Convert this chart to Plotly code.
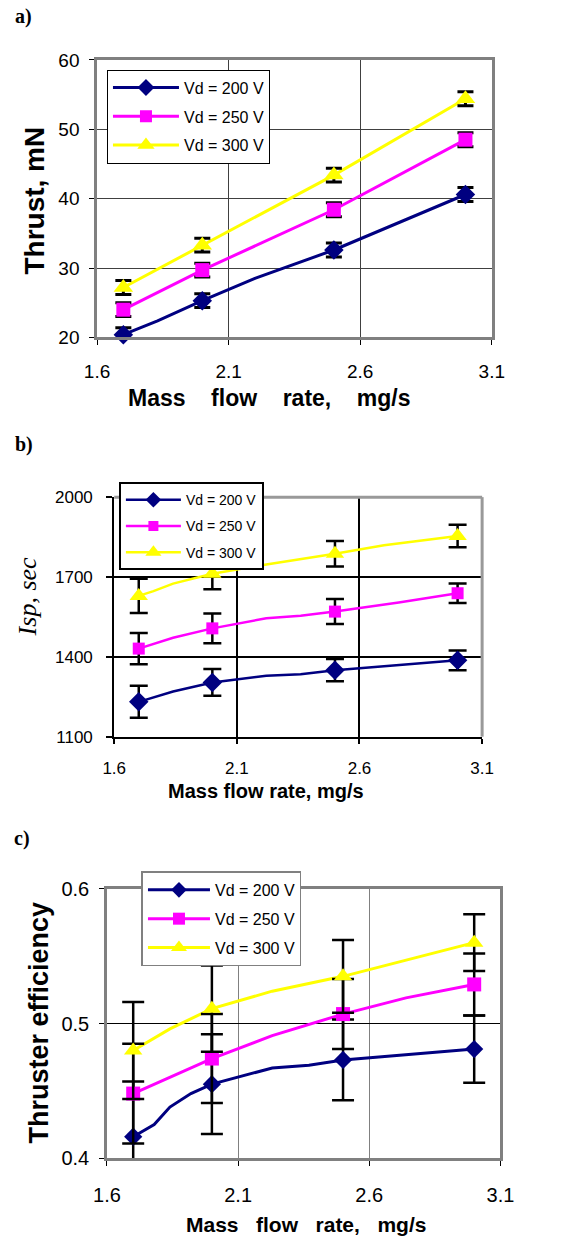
import plotly.graph_objects as go

W, H = 578, 1240

# ---------------- data ----------------
mass_flow = [1.7, 2.0, 2.5, 3.0]
series_names = ["Vd = 200 V", "Vd = 250 V", "Vd = 300 V"]
series_colors = ["#000080", "#FF00FF", "#FFFF00"]
series_symbols = ["diamond", "square", "triangle-up"]

# a) Thrust, mN
thrust_200 = [20.4, 25.3, 32.6, 40.6]
thrust_250 = [24.0, 29.7, 38.4, 48.5]
thrust_300 = [27.2, 33.3, 43.4, 54.4]
thrust_err = [1.0, 1.0, 1.0, 1.0]
thrust_line_x_200 = [1.7, 1.83, 2.0, 2.2, 2.5, 3.0]
thrust_line_y_200 = [20.4, 22.4, 25.3, 28.5, 32.6, 40.6]
thrust_line_x_250 = [1.7, 2.0, 2.5, 3.0]
thrust_line_y_250 = [24.0, 29.7, 38.4, 48.5]
thrust_line_x_300 = [1.7, 2.0, 2.5, 3.0]
thrust_line_y_300 = [27.2, 33.3, 43.4, 54.4]

# b) Isp, sec
isp_200 = [1231, 1304, 1350, 1387]
isp_250 = [1431, 1507, 1570, 1639]
isp_300 = [1629, 1712, 1787, 1854]
isp_err_200 = [60, 50, 42, 37]
isp_err_250 = [59, 56, 47, 37]
isp_err_300 = [64, 58, 48, 42]
isp_line_x_200 = [1.7, 1.84, 2.0, 2.22, 2.36, 2.5, 3.0]
isp_line_y_200 = [1231, 1270, 1304, 1329, 1335, 1350, 1387]
isp_line_x_250 = [1.7, 1.84, 2.0, 2.22, 2.36, 2.5, 2.76, 3.0]
isp_line_y_250 = [1431, 1472, 1507, 1545, 1554, 1570, 1604, 1639]
isp_line_x_300 = [1.7, 1.76, 1.84, 2.0, 2.22, 2.5, 2.7, 3.0]
isp_line_y_300 = [1629, 1647, 1675, 1712, 1747, 1787, 1819, 1854]

# c) Thruster efficiency
eff_200 = [0.416, 0.455, 0.473, 0.481]
eff_250 = [0.448, 0.474, 0.507, 0.529]
eff_300 = [0.480, 0.511, 0.535, 0.560]
eff_err_200 = [0.041, 0.037, 0.030, 0.025]
eff_err_250 = [0.037, 0.033, 0.026, 0.023]
eff_err_300 = [0.036, 0.032, 0.027, 0.021]
eff_line_x_200 = [1.7, 1.78, 1.84, 1.92, 2.0, 2.23, 2.37, 2.5, 3.0]
eff_line_y_200 = [0.416, 0.425, 0.438, 0.448, 0.455, 0.467, 0.469, 0.473, 0.481]
eff_line_x_250 = [1.7, 2.0, 2.23, 2.5, 2.74, 3.0]
eff_line_y_250 = [0.448, 0.474, 0.491, 0.507, 0.519, 0.529]
eff_line_x_300 = [1.7, 1.84, 2.0, 2.23, 2.5, 3.0]
eff_line_y_300 = [0.480, 0.496, 0.511, 0.524, 0.535, 0.560]

x_ticks = [1.6, 2.1, 2.6, 3.1]
x_tick_text = ["1.6", "2.1", "2.6", "3.1"]
thrust_ticks = [20, 30, 40, 50, 60]
isp_ticks = [1100, 1400, 1700, 2000]
eff_ticks = [0.4, 0.5, 0.6]
eff_tick_text = ["0.4", "0.5", "0.6"]


# page-pixel -> paper fraction, compensating the offset/scale seen in the rendered picture
def X(px):
    return ((px - 12.5) / 0.957) / W


def Y(py):
    return 1 - ((py - 9.0) / 0.984) / H


fig = go.Figure()

panels = [
    dict(xa="x", ya="y", leg="legend",
         vals=[thrust_200, thrust_250, thrust_300],
         errs=[thrust_err, thrust_err, thrust_err],
         lx=[thrust_line_x_200, thrust_line_x_250, thrust_line_x_300],
         ly=[thrust_line_y_200, thrust_line_y_250, thrust_line_y_300],
         msize=[15, 14, 17], lw=3, ew=3, ecap=8, lgsize=[13, 12, 15]),
    dict(xa="x2", ya="y2", leg="legend2",
         vals=[isp_200, isp_250, isp_300],
         errs=[isp_err_200, isp_err_250, isp_err_300],
         lx=[isp_line_x_200, isp_line_x_250, isp_line_x_300],
         ly=[isp_line_y_200, isp_line_y_250, isp_line_y_300],
         msize=[15, 12, 16], lw=2.5, ew=2.5, ecap=9, lgsize=[12, 10, 14]),
    dict(xa="x3", ya="y3", leg="legend3",
         vals=[eff_200, eff_250, eff_300],
         errs=[eff_err_200, eff_err_250, eff_err_300],
         lx=[eff_line_x_200, eff_line_x_250, eff_line_x_300],
         ly=[eff_line_y_200, eff_line_y_250, eff_line_y_300],
         msize=[14, 14, 16], lw=3, ew=2.5, ecap=11, lgsize=[12, 12, 14]),
]

for p in panels:
    for i in range(3):
        fig.add_trace(go.Scatter(
            x=p["lx"][i], y=p["ly"][i], mode="lines", xaxis=p["xa"], yaxis=p["ya"],
            line=dict(color=series_colors[i], width=p["lw"]), showlegend=False,
            hoverinfo="skip"))
    for i in range(3):
        fig.add_trace(go.Scatter(
            x=mass_flow, y=p["vals"][i], mode="markers", xaxis=p["xa"], yaxis=p["ya"],
            marker=dict(color=series_colors[i], symbol=series_symbols[i],
                        size=p["msize"][i], line=dict(width=0)),
            error_y=dict(type="data", array=p["errs"][i], color="black",
                         thickness=p["ew"], width=p["ecap"]),
            cliponaxis=False, showlegend=False))
    for i in range(3):
        fig.add_trace(go.Scatter(
            x=[None], y=[None], mode="lines+markers", xaxis=p["xa"], yaxis=p["ya"],
            name=series_names[i], legend=p["leg"], legendgroup=p["leg"] + str(i),
            line=dict(color=series_colors[i], width=p["lw"]),
            marker=dict(color=series_colors[i], symbol=series_symbols[i],
                        size=p["lgsize"][i])))

tickfont = dict(family="Liberation Sans, Arial", color="black")

fig.update_layout(
    xaxis=dict(domain=[X(96), X(493)], range=[1.6, 3.1], tickvals=x_ticks, ticktext=x_tick_text,
               showline=True, mirror=True, linecolor="#808080", linewidth=2.5,
               showgrid=True, gridcolor="#404040", gridwidth=1, zeroline=False,
               ticks="outside", ticklen=5, tickcolor="black", tickwidth=1,
               tickfont=dict(tickfont, size=19), ticklabelstandoff=10, anchor="y"),
    yaxis=dict(domain=[Y(336), Y(58)], range=[20, 60], tickvals=thrust_ticks,
               showline=True, mirror=True, linecolor="#808080", linewidth=2.5,
               showgrid=True, gridcolor="#404040", gridwidth=1, zeroline=False,
               ticks="outside", ticklen=5, tickcolor="black", tickwidth=1,
               tickfont=dict(tickfont, size=19), ticklabelstandoff=6, anchor="x"),
    xaxis2=dict(domain=[X(113.3), X(483.3)], range=[1.6, 3.1], tickvals=x_ticks, ticktext=x_tick_text,
                showline=True, mirror=False, linecolor="black", linewidth=2,
                showgrid=True, gridcolor="black", gridwidth=2, zeroline=False,
                ticks="outside", ticklen=5, tickcolor="black", tickwidth=2,
                tickfont=dict(tickfont, size=17), ticklabelstandoff=10, anchor="y2"),
    yaxis2=dict(domain=[Y(736), Y(496)], range=[1100, 2000], tickvals=isp_ticks,
                showline=True, mirror=False, linecolor="black", linewidth=2,
                showgrid=True, gridcolor="black", gridwidth=2, zeroline=False,
                ticks="outside", ticklen=6, tickcolor="black", tickwidth=2,
                tickfont=dict(tickfont, size=17), ticklabelstandoff=10, anchor="x2"),
    xaxis3=dict(domain=[X(106), X(501.7)], range=[1.6, 3.1], tickvals=x_ticks, ticktext=x_tick_text,
                showline=True, mirror=True, linecolor="#808080", linewidth=2.5,
                showgrid=True, gridcolor="#808080", gridwidth=1, zeroline=False,
                ticks="outside", ticklen=5, tickcolor="black", tickwidth=1,
                tickfont=dict(tickfont, size=20), ticklabelstandoff=12, anchor="y3"),
    yaxis3=dict(domain=[Y(1158.3), Y(888.3)], range=[0.4, 0.6], tickvals=eff_ticks, ticktext=eff_tick_text,
                showline=True, mirror=True, linecolor="#808080", linewidth=2.5,
                showgrid=True, gridcolor="black", gridwidth=1, zeroline=False,
                ticks="outside", ticklen=5, tickcolor="black", tickwidth=1,
                tickfont=dict(tickfont, size=20), ticklabelstandoff=6, anchor="x3"),
)

legfont = dict(family="Liberation Sans, Arial", color="black")
fig.update_layout(
    legend=dict(x=X(106), y=Y(67.7), xanchor="left", yanchor="top", bgcolor="white",
                bordercolor="black", borderwidth=1, font=dict(legfont, size=16),
                traceorder="grouped", tracegroupgap=5, itemwidth=66),
    legend2=dict(x=X(118), y=Y(481), xanchor="left", yanchor="top", bgcolor="white",
                 bordercolor="black", borderwidth=2, font=dict(legfont, size=14),
                 traceorder="grouped", tracegroupgap=5, itemwidth=55),
    legend3=dict(x=X(140.7), y=Y(871), xanchor="left", yanchor="top", bgcolor="white",
                 bordercolor="#808080", borderwidth=1.5, font=dict(legfont, size=16),
                 traceorder="grouped", tracegroupgap=5, itemwidth=62),
)

fig.add_shape(type="line", xref="x2 domain", yref="y2 domain", x0=0, x1=1, y0=1, y1=1,
              line=dict(color="#999999", width=3), layer="above")
fig.add_shape(type="line", xref="x2 domain", yref="y2 domain", x0=1, x1=1, y0=0, y1=1,
              line=dict(color="#999999", width=3), layer="above")

sp = "\u00a0"
bold = dict(family="Liberation Sans, Arial", color="black")
serif = dict(family="Liberation Serif, Times New Roman", color="black")
annos = [
    dict(text="<b>a)</b>", x=X(22), y=Y(15), font=dict(serif, size=20)),
    dict(text="<b>b)</b>", x=X(23), y=Y(443), font=dict(serif, size=20)),
    dict(text="<b>c)</b>", x=X(21), y=Y(838), font=dict(serif, size=20)),
    dict(text="<b>Mass" + sp * 4 + "flow" + sp * 4 + "rate," + sp * 4 + "mg/s</b>",
         x=X(269), y=Y(397), font=dict(bold, size=23)),
    dict(text="<b>Thrust, mN</b>", x=X(33), y=Y(198.5), textangle=-90, font=dict(bold, size=28)),
    dict(text="<b>Mass flow rate, mg/s</b>", x=X(265.7), y=Y(790), font=dict(bold, size=20)),
    dict(text="<i>Isp, sec</i>", x=X(27), y=Y(596), textangle=-90, font=dict(serif, size=26)),
    dict(text="<b>Mass" + sp * 3 + "flow" + sp * 3 + "rate," + sp * 3 + "mg/s</b>",
         x=X(305.8), y=Y(1225), font=dict(bold, size=21)),
    dict(text="<b>Thruster efficiency</b>", x=X(37.5), y=Y(1022.5), textangle=-90,
         font=dict(bold, size=27)),
]
for a in annos:
    a.update(xref="paper", yref="paper", showarrow=False, xanchor="center", yanchor="middle")
fig.update_layout(annotations=annos)

fig.update_layout(width=W, height=H, margin=dict(l=0, r=0, t=0, b=0),
                  paper_bgcolor="white", plot_bgcolor="white", showlegend=True)

fig.write_html("out.html")
